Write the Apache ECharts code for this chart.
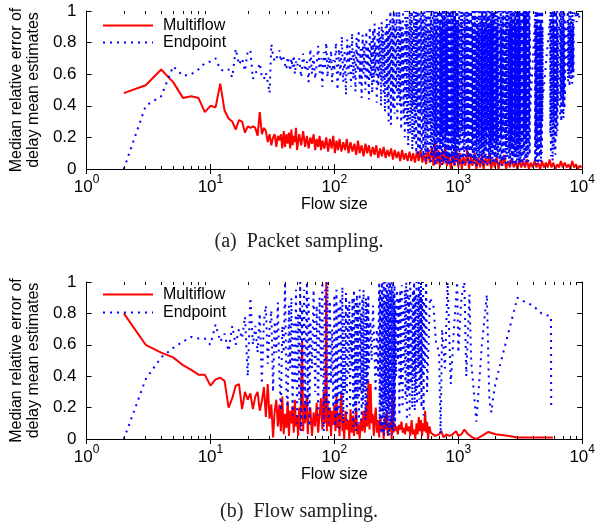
<!DOCTYPE html>
<html><head><meta charset="utf-8">
<script src="https://cdn.jsdelivr.net/npm/echarts@6/dist/echarts.min.js"></script>
<style>html,body{margin:0;padding:0;background:#fff}#c{width:598px;height:523px}</style>
</head><body><div id="c"></div>
<script>
// ---- Data (flow size, median relative error) ----
const seriesNames = ['Multiflow', 'Endpoint'];
const captions = ['(a)  Packet sampling.', '(b)  Flow sampling.'];
const yTicks = [0, 0.2, 0.4, 0.6, 0.8, 1];
const xDecades = [1, 10, 100, 1000, 10000];
const minorMultipliers = [2, 3, 4, 5, 6, 7, 8, 9];

const packetMultiflow = [[2,0.48],[3,0.53],[4,0.63],[5,0.55],[6,0.45],[7,0.46],[8,0.45],[9,0.36],[10,0.40],[11,0.39],[12,0.54],[13,0.37],[14,0.32],[15,0.30],[16,0.25],[17,0.31],[18,0.30],[19,0.23],[20,0.27],[21,0.26],[22,0.27],[23,0.26],[24,0.21],[25,0.36],[26,0.22],[27,0.26],[28,0.24],[29,0.17],[30,0.22],[31,0.15],[32,0.20],[33,0.22],[34,0.14],[35,0.21],[36,0.18],[37,0.22],[38,0.13],[39,0.24],[40,0.14],[41,0.22],[42,0.16],[43,0.23],[44,0.13],[45,0.25],[46,0.15],[47,0.21],[48,0.17],[49,0.26],[50,0.12],[52,0.22],[54,0.15],[56,0.24],[58,0.14],[60,0.21],[62,0.13],[64,0.20],[66,0.16],[68,0.22],[70,0.12],[72,0.19],[74,0.14],[76,0.21],[78,0.12],[80,0.18],[83,0.13],[86,0.20],[89,0.11],[92,0.19],[95,0.13],[98,0.21],[101,0.10],[104,0.18],[107,0.12],[110,0.19],[114,0.11],[118,0.17],[122,0.12],[126,0.19],[130,0.10],[135,0.17],[140,0.11],[145,0.16],[150,0.09],[155,0.18],[160,0.10],[166,0.15],[172,0.08],[178,0.16],[184,0.10],[190,0.15],[197,0.08],[204,0.14],[211,0.09],[218,0.15],[226,0.07],[234,0.13],[242,0.08],[250,0.14],[259,0.07],[268,0.12],[277,0.08],[287,0.13],[297,0.06],[307,0.12],[318,0.07],[329,0.11],[340,0.05],[352,0.12],[364,0.06],[377,0.10],[390,0.05],[404,0.11],[418,0.05],[432,0.10],[447,0.04],[463,0.11],[479,0.05],[496,0.12],[513,0.04],[531,0.10],[550,0.03],[569,0.13],[589,0.04],[610,0.14],[630,0.02],[650,0.17],[670,0.03],[690,0.12],[710,0.01],[735,0.11],[760,0.03],[785,0.15],[810,0.02],[840,0.10],[870,0.0],[900,0.09],[930,0.02],[960,0.13],[1000,0.01],[1030,0.10],[1070,0.0],[1100,0.08],[1140,0.02],[1180,0.12],[1220,0.0],[1260,0.08],[1300,0.02],[1350,0.10],[1400,0.0],[1450,0.07],[1500,0.01],[1550,0.09],[1600,0.0],[1660,0.07],[1720,0.02],[1780,0.10],[1840,0.0],[1900,0.06],[1970,0.01],[2040,0.08],[2110,0.0],[2190,0.06],[2270,0.02],[2350,0.09],[2430,0.0],[2520,0.05],[2610,0.01],[2700,0.07],[2800,0.01],[2900,0.05],[3000,0.0],[3110,0.06],[3220,0.01],[3340,0.05],[3460,0.01],[3580,0.06],[3710,0.0],[3840,0.04],[3980,0.01],[4120,0.05],[4270,0.01],[4420,0.04],[4580,0.0],[4740,0.05],[4910,0.01],[5090,0.04],[5270,0.01],[5460,0.06],[5650,0.01],[5850,0.04],[6060,0.0],[6280,0.03],[6500,0.01],[6730,0.05],[6970,0.01],[7220,0.04],[7480,0.01],[7750,0.03],[8020,0.0],[8310,0.05],[8600,0.01],[8910,0.03],[9230,0.0],[9560,0.02],[9900,0.01]];

const packetEndpoint = [[2,0],[3,0.40],[4,0.46],[5,0.65],[6,0.59],[7,0.60],[8,0.63],[9,0.67],[10,0.68],[11,0.70],[12,0.63],[13,0.62],[14,0.63],[15,0.58],[16,0.76],[17,0.66],[18,0.70],[19,0.62],[20,0.75],[21,0.75],[22,0.57],[23,0.61],[24,0.62],[25,0.67],[26,0.58],[27,0.57],[28,0.61],[29,0.55],[30,0.48],[31,0.79],[32,0.72],[33,0.68],[34,0.69],[35,0.72],[36,0.75],[37,0.68],[38,0.72],[39,0.70],[40,0.66],[41,0.63],[42,0.71],[43,0.67],[44,0.62],[45,0.70],[46,0.64],[47,0.72],[48,0.60],[49,0.68],[50,0.65],[52,0.70],[54,0.58],[56,0.73],[58,0.62],[60,0.68],[62,0.55],[64,0.76],[66,0.60],[68,0.72],[70,0.57],[72,0.66],[74,0.78],[76,0.61],[78,0.70],[80,0.52],[82,0.74],[84,0.63],[86,0.80],[88,0.58],[90,0.71],[92,0.64],[94,0.75],[96,0.55],[98,0.69],
[100,0.62],[103,0.80],[106,0.50],[109,0.76],[112,0.58],[115,0.84],[118,0.55],[121,0.74],[124,0.47],[127,0.82],[130,0.60],[133,0.78],[136,0.52],[139,0.86],[142,0.57],[145,0.75],[148,0.49],[151,0.83],[154,0.62],[157,0.88],[160,0.54],[163,0.76],[166,0.45],[169,0.85],[172,0.60],[175,0.80],[178,0.50],[181,0.87],[184,0.56],[187,0.78],[190,0.44],[193,0.90],[196,0.58],[199,0.81],[202,0.48],[205,0.88],[208,0.55],[211,0.92],[214,0.60],[217,0.79],[220,0.42],[223,0.86],[226,0.52],[229,0.90],[232,0.58],[235,0.84],[238,0.40],[241,0.93],[244,0.55],[247,0.88],[250,0.47],[253,0.82],[256,0.36],[259,0.90],[262,0.50],[265,0.95],[268,0.42],[271,0.87],[274,0.30],[277,0.92],[280,0.55],[283,1.0],[286,0.28],[289,0.88],[292,0.48],[295,0.96],[298,0.38],
[302,1.0],[306,0.35],[310,0.92],[314,0.50],[318,1.0],[322,0.30],[326,0.88],[330,0.45],[334,1.0],[338,0.40],[342,0.95],[346,0.25],[350,0.90],[354,0.52],[358,1.0],[362,0.32],[366,0.86],[370,0.20],[374,1.0],[378,0.42],[382,0.94],[386,0.28],[390,1.0],[394,0.15],[398,0.90],[402,0.45],[406,1.0],[410,0.22],[414,0.96],[418,0.35],[422,1.0],[426,0.12],[430,0.88],[434,0.40],[438,1.0],[442,0.18],[446,0.93],[450,0.30],[454,1.0],[458,0.10],[462,0.95],[466,0.38],[470,1.0],[474,0.08],[478,0.90],[482,0.25],[486,1.0],[490,0.12],[494,0.97],[498,0.35],[502,1.0],[506,0.06],
[510,0.95],[514,0.22],[518,1.0],[522,0.08],[526,0.90],[530,0.30],[534,1.0],[538,0.12],[542,0.86],[546,0.04],[550,0.97],[554,0.26],[558,1.0],[562,0.10],[566,0.92],[570,0.18],[574,1.0],[578,0.05],[582,0.88],[586,0.28],[590,1.0],[594,0.14],[598,0.95],[602,0.03],[606,1.0],[610,0.20],[614,0.91],[618,0.08],[622,1.0],[626,0.32],[630,0.85],[634,0.06],[638,1.0],[642,0.16],[646,0.94],[650,0.02],[654,1.0],[658,0.24],[662,0.89],[666,0.10],[670,1.0],[674,0.05],[678,0.96],[682,0.19],[686,1.0],[690,0.07],[694,0.87],[698,0.27],[702,1.0],[706,0.03],[710,0.93],[714,0.13],[718,1.0],[722,0.09],[726,0.90],[730,0.21],[734,1.0],[738,0.02],[742,0.97],[746,0.15],[750,1.0],[754,0.06],[758,0.88],[762,0.25],[766,1.0],[770,0.04],[774,0.94],[778,0.12],[782,1.0],[786,0.18],[790,0.86],[794,0.03],[798,1.0],[802,0.09],[806,0.92],[810,0.23],[814,1.0],[818,0.05],[822,0.95],[826,0.14],[830,1.0],[834,0.02],[838,0.89],[842,0.20],[846,1.0],[850,0.07],[854,0.97],[858,0.11],[862,1.0],[866,0.29],[870,0.91],[874,0.04],[878,1.0],[882,0.16],[886,0.87],[890,0.06],[894,1.0],[898,0.22],[902,0.94],[906,0.03],[910,1.0],[914,0.13],[918,0.90],[922,0.08],[926,1.0],[930,0.19],[934,0.96],[938,0.02],[942,1.0],[946,0.10],[950,0.88],[954,0.26],[958,1.0],[962,0.05],[966,0.93],[970,0.15],[974,1.0],[978,0.04],[982,0.91],[986,0.21],[990,1.0],[994,0.07],[998,0.95],
[1006,0.12],[1014,1.0],[1022,0.03],[1030,0.90],[1038,0.18],[1046,1.0],[1054,0.06],[1062,0.94],[1070,0.24],[1078,1.0],[1086,0.02],[1094,0.87],[1102,0.14],[1110,1.0],[1118,0.08],[1126,0.96],[1134,0.20],[1142,1.0],[1150,0.04],[1158,0.91],[1166,0.11],[1174,1.0],[1182,0.27],[1190,0.89],[1198,0.05],[1206,1.0],[1214,0.16],[1222,0.95],[1230,0.02],[1238,1.0],[1246,0.09],[1254,0.88],[1262,0.22],[1270,1.0],[1278,0.04],[1286,0.93],[1294,0.13],[1302,1.0],[1310,0.07],[1318,0.90],[1326,0.19],[1334,1.0],[1342,0.03],[1350,0.97],[1358,0.25],[1366,1.0],[1374,0.06],[1382,0.86],[1390,0.12],[1398,1.0],[1406,0.02],[1414,0.94],[1422,0.17],[1430,1.0],[1438,0.08],[1446,0.91],[1454,0.21],[1462,1.0],[1470,0.04],[1478,0.89],[1486,0.10],[1494,1.0],[1502,0.28],[1510,0.95],[1518,0.03],[1526,1.0],[1534,0.15],[1542,0.92],[1550,0.06],[1558,1.0],[1566,0.20],[1574,0.87],[1582,0.02],[1590,1.0],[1598,0.11],[1606,0.96],[1614,0.07],[1622,1.0],[1630,0.23],[1638,0.90],[1646,0.04],[1654,1.0],[1662,0.14],[1670,0.93],[1678,0.09],[1686,1.0],[1694,0.18],[1702,0.88],[1710,0.03],[1718,1.0],[1726,0.26],[1734,0.95],[1742,0.05],[1750,1.0],[1758,0.12],[1766,0.91],[1774,0.08],[1782,1.0],[1790,0.21],[1798,0.86],[1806,0.02],[1814,1.0],[1822,0.16],[1830,0.94],[1838,0.06],[1846,1.0],[1854,0.13],[1862,0.89],[1870,0.24],[1878,1.0],[1886,0.04],[1894,0.92],[1902,0.10],[1910,1.0],[1918,0.19],[1926,0.97],[1934,0.03],[1942,1.0],[1950,0.15],[1958,0.88],[1966,0.07],[1974,1.0],[1982,0.22],[1990,0.93],[1998,0.05],
[2010,1.0],[2022,0.12],[2034,0.90],[2046,0.04],[2058,1.0],[2070,0.18],[2082,0.95],[2094,0.08],[2106,1.0],[2118,0.27],[2130,0.87],[2142,0.03],[2154,1.0],[2166,0.14],[2178,0.92],[2190,0.06],[2202,1.0],[2214,0.20],[2226,0.89],[2238,0.02],[2250,1.0],[2262,0.11],[2274,0.96],[2286,0.25],[2298,1.0],[2310,0.05],[2322,0.91],[2334,0.16],[2346,1.0],[2358,0.09],[2370,0.86],[2382,0.22],[2394,1.0],[2406,0.03],[2418,0.94],[2430,0.13],[2442,1.0],[2454,0.07],[2466,0.90],[2478,0.19],[2490,1.0],[2502,0.04],[2514,0.97],[2526,0.28],[2538,1.0],[2550,0.10],[2562,0.88],[2574,0.05],[2586,1.0],[2598,0.17],[2610,0.93],[2622,0.02],[2634,1.0],[2646,0.12],[2658,0.89],[2670,0.21],[2682,1.0],[2694,0.06],[2706,0.95],[2718,0.15],[2730,1.0],[2742,0.03],[2754,0.87],[2766,0.24],[2778,1.0],[2790,0.08],[2802,0.92],[2814,0.14],[2826,1.0],[2838,0.04],[2850,0.96],[2862,0.18],[2874,1.0],[2886,0.09],[2898,0.90],[2910,0.02],[2922,1.0],[2934,0.20],[2946,0.94],[2958,0.11],[2970,1.0],[2982,0.05],[2994,0.88],[3006,0.26],[3018,1.0],[3030,0.07],[3042,0.91],[3054,0.13],[3066,1.0],[3078,0.03],[3090,0.95],[3102,0.16],[3114,1.0],[3126,0.06],[3138,0.89],[3150,0.22],[3162,1.0],[3174,0.04],[3186,0.93],[3198,0.12],
[3213,1.0],[3228,0.05],[3243,0.92],[3258,0.14],[3273,1.0],[3288,0.03],[3303,0.96],[3318,0.20],[3333,1.0],[3348,0.08],[3363,0.89],[3378,0.12],[3393,1.0],[3408,0.02],[3423,0.94],[3438,0.25],[3453,1.0],[3468,0.06],[3483,0.90],[3498,0.16],[3513,1.0],[3528,0.04],[3543,0.95],[3558,0.11],[3573,1.0],[3588,0.22],[3603,0.87],[3618,0.07],[3633,1.0],[3648,0.18],[3663,0.93],[3678,0.03],[3693,1.0],[3708,0.13],[3723,0.91],[3738,0.28],[3753,1.0],[3768,0.09],[3783,0.86],[3800,0.35],
[4150,0.95],[4170,0.04],[4190,1.0],[4210,0.15],[4230,0.90],[4250,0.02],[4270,1.0],[4290,0.21],[4310,0.94],[4330,0.07],[4350,1.0],[4370,0.12],[4390,0.88],[4410,0.03],[4430,1.0],[4450,0.18],[4470,0.96],[4490,0.05],[4510,1.0],[4530,0.26],[4550,0.91],[4570,0.08],[4590,1.0],[4610,0.14],[4630,0.93],[4650,0.04],[4670,1.0],[4690,0.22],[4710,0.87],[4730,0.10],[4750,1.0],[4770,0.30],[4790,0.90],[4810,0.45],
[5500,0.95],[5530,0.22],[5560,1.0],[5590,0.08],[5620,0.91],[5650,0.30],[5680,1.0],[5710,0.15],[5740,0.88],[5770,0.05],[5800,1.0],[5830,0.26],[5860,0.94],[5890,0.12],[5920,1.0],[5950,0.33],[5980,0.90],[6010,0.18],[6040,1.0],[6070,0.09],[6100,0.86],[6130,0.28],[6160,1.0],[6190,0.20],[6220,0.93],[6250,0.35],[6280,1.0],[6310,0.24],[6340,0.89],[6370,0.40],[6400,0.82],
[6600,1.0],[6635,0.33],[6670,0.92],[6705,0.45],[6740,1.0],[6775,0.30],[6810,0.88],[6845,0.48],[6880,1.0],[6915,0.36],[6950,0.94],[6985,0.42],[7020,1.0],[7055,0.32],[7090,0.90],[7125,0.50],[7160,1.0],[7195,0.38],[7230,0.86],[7265,0.46],[7300,0.95],
[7600,0.62],[7650,1.0],[7700,0.55],[7750,0.93],[7800,0.60],[7850,1.0],[7900,0.52],[7950,0.90],[8000,0.64],[8050,1.0],[8100,0.57],[8150,0.95],[8200,0.61],[8250,0.88],[8300,0.54],[8350,1.0],[8400,0.63],[8450,0.92],[8500,0.58],[8550,0.96],
[8800,1.0],[9000,0.93],[9200,1.0],[9400,0.95],[9600,1.0]];

const flowMultiflow = [[2,0.80],[3,0.60],[4,0.55],[5,0.52],[6,0.47],[7,0.44],[8,0.41],[9,0.41],[10,0.34],[11,0.38],[12,0.39],[13,0.37],[14,0.20],[15,0.26],[16,0.34],[17,0.35],[18,0.19],[19,0.30],[20,0.25],[21,0.29],[22,0.19],[23,0.27],[24,0.30],[25,0.18],[26,0.24],[27,0.33],[28,0.14],[29,0.35],[30,0.13],[31,0.22],[32,0.01],[33,0.18],[34,0.25],[35,0.08],[36,0.22],[37,0.05],[38,0.27],[39,0.03],[40,0.16],[41,0.07],[42,0.24],[43,0.02],[44,0.18],[45,0.10],[46,0.21],[47,0.04],[48,0.25],[49,0.08],[50,0.15],[51,0.02],[52,0.20],[53,0.06],[54,0.30],[55,0.62],[56,0.05],[57,0.22],[58,0.10],[59,0.18],[60,0.28],[61,0.03],[62,0.14],[64,0.20],[66,0.02],[68,0.17],[70,0.08],[72,0.23],[74,0.04],[76,0.15],[78,0.26],[80,0.06],[82,0.30],[84,0.10],[86,1.0],[87,0.05],[88,0.25],[90,0.08],[92,0.20],[94,0.02],[96,0.18],[98,0.09],[100,0.22],[102,0.05],[104,0.28],[106,0.07],[108,0.16],[110,0.02],[112,0.20],[114,0.30],[116,0.05],[118,0.14],[120,0.0],[123,0.18],[126,0.06],[129,0.12],[132,0.0],[135,0.19],[138,0.04],[141,0.15],[144,0.02],[147,0.12],[150,0.20],[153,0.03],[156,0.10],[160,0.0],[164,0.13],[168,0.05],[172,0.18],[176,0.04],[180,0.22],[184,0.08],[188,0.37],[192,0.06],[196,0.35],[200,0.10],[204,0.16],[208,0.02],[212,0.13],[216,0.20],[220,0.04],[225,0.12],[230,0.01],[235,0.15],[240,0.05],[245,0.10],[250,0.0],[255,0.14],[260,0.06],[265,0.18],[270,0.02],[275,0.10],[280,0.05],[285,0.12],[290,0.0],[295,0.30],[300,0.04],[306,0.10],[312,0.05],[318,0.08],[325,0.03],[332,0.09],[340,0.06],[348,0.11],[356,0.04],[364,0.07],[372,0.03],[380,0.10],[390,0.05],[400,0.08],[410,0.02],[420,0.12],[430,0.03],[440,0.06],[450,0.0],[460,0.10],[470,0.03],[480,0.14],[490,0.05],[500,0.12],[510,0.02],[520,0.10],[530,0.05],[540,0.18],[550,0.04],[560,0.11],[570,0.0],[585,0.08],[600,0.04],[620,0.03],[650,0.02],[700,0.03],[730,0.05],[760,0.01],[800,0.03],[850,0.02],[900,0.03],[960,0.05],[1000,0.02],[1060,0.03],[1120,0.06],[1200,0.03],[1300,0.01],[1400,0.0],[1550,0.02],[1750,0.045],[2000,0.03],[2500,0.02],[3000,0.01],[4000,0.01],[5800,0.01]];

const flowEndpoint = [[2,0],[3,0.38],[4,0.52],[5,0.58],[6,0.62],[7,0.65],[8,0.64],[9,0.64],[10,0.60],[11,0.73],[12,0.62],[13,0.67],[14,0.56],[15,0.72],[16,0.60],[17,0.70],[18,0.64],[19,0.78],[20,0.40],[21,0.90],[22,0.60],[23,0.72],[24,0.55],[25,0.80],[26,0.35],[27,0.75],[28,0.85],[29,0.48],[30,0.70],[31,0.82],[32,0.30],[33,0.75],[34,0.55],[35,0.87],[36,0.40],[37,0.18],[38,0.72],[39,0.55],[40,1.0],[41,0.30],[42,0.20],[43,0.85],[44,0.45],[45,0.90],[46,0.15],[47,0.75],[48,0.35],[49,0.95],[50,0.10],[51,0.80],[52,0.25],[53,1.0],[54,0.05],[55,0.85],[56,0.30],[57,0.95],[58,0.12],[59,0.70],[60,1.0],[61,0.20],[62,0.90],[63,0.08],[64,0.75],[66,0.45],[68,0.95],[70,0.30],[72,0.85],[74,0.15],[76,0.90],[78,0.40],[80,1.0],[82,0.05],[84,0.95],[86,0.20],[88,1.0],[90,0.10],[92,0.88],[94,0.35],[96,0.70],[98,0.20],
[100,0.92],[102,0.08],[104,0.95],[106,0.15],[108,0.85],[110,0.05],[112,0.90],[114,0.25],[116,0.97],[118,0.10],[120,0.80],[122,0.30],[124,0.93],[126,0.12],[128,0.85],[130,0.40],[132,0.88],[134,0.20],[136,0.75],[138,0.45],[140,0.90],[142,0.08],[144,0.95],[146,0.18],[148,0.88],[150,0.05],[152,0.92],[154,0.25],[156,0.85],[158,0.10],[160,0.95],[162,0.30],[164,0.80],[166,0.12],[168,0.90],[170,0.22],[172,0.95],[174,0.30],[176,0.80],[178,0.12],[180,0.90],[182,0.18],[184,0.86],[186,0.35],[188,0.92],[190,0.45],[195,0.75],[200,0.50],[205,0.85],[210,0.60],[215,0.30],[220,0.70],[225,0.40],
[230,1.0],[232,0.10],[234,0.95],[236,0.05],[238,0.92],[240,0.20],[242,1.0],[244,0.03],[246,0.90],[248,0.15],[250,1.0],[252,0.02],[254,0.88],[256,0.25],[258,1.0],[260,0.08],[262,0.95],[264,0.12],[266,1.0],[268,0.04],[270,0.92],[272,0.18],[274,1.0],[276,0.02],[278,0.88],[280,0.22],[282,1.0],[284,0.06],[286,0.94],[288,0.10],[290,1.0],[292,0.03],[294,0.90],[296,0.28],[298,1.0],[300,0.05],[302,0.93],[304,0.15],[306,0.98],[308,0.08],[310,0.85],
[315,0.40],[320,0.95],[325,0.50],[330,0.90],[335,0.15],[340,0.95],[345,0.35],[350,0.98],[355,0.20],[360,0.85],[365,0.45],[370,0.95],[375,0.25],[380,1.0],[385,0.12],[390,0.95],[395,0.30],[400,0.90],[405,0.15],[410,1.0],[415,0.35],[420,0.88],[425,0.20],[430,0.95],[435,0.40],[440,1.0],[445,0.18],[450,0.92],[455,0.30],[460,1.0],[465,0.22],[470,0.90],[475,0.45],[480,1.0],[485,0.25],[490,0.95],[495,0.35],[500,1.0],[505,0.20],[510,0.90],[515,0.40],[520,1.0],[525,0.15],[530,0.88],[540,0.45],[550,1.0],[560,0.30],
[590,0.90],[630,0.85],[660,0.62],[700,0.55],[720,0.03],[740,0.70],[780,0.45],[820,1.0],[870,0.35],[930,0.75],[980,1.0],[1000,0.55],[1060,0.90],[1120,1.0],[1160,0.40],[1230,0.92],[1270,0.50],[1400,0.11],[1550,0.60],[1700,0.92],[1780,0.25],[1850,0.17],[1900,0.25],[2000,0.36],[3000,0.90],[3500,0.87],[4000,0.85],[4700,0.80],[5600,0.78],[5620,0.20]];

const panels = [
  { multi: packetMultiflow, end: packetEndpoint, top: 11, height: 158, legendTop: 17, legendGap: 0, captionTop: 227 },
  { multi: flowMultiflow, end: flowEndpoint, top: 282, height: 157, legendTop: 286, legendGap: 1, captionTop: 497 }
];

// ---- Styling ----
const SANS = '"Liberation Sans", Arial, Helvetica, sans-serif';
const SERIF = '"Liberation Serif", "Times New Roman", serif';
const RED = '#ff0000', BLUE = '#0000ff';
const blueDash = [2, 5];
const MINOR_LEN_PX = 3;

const minorValues = [];
for (let d = 0; d < xDecades.length - 1; d++) {
  for (const m of minorMultipliers) minorValues.push(xDecades[d] * m);
}

const grid = [], xAxis = [], yAxis = [], series = [], legend = [], title = [];

panels.forEach((p, i) => {
  grid.push({ left: 81, top: p.top, width: 504, height: p.height, containLabel: false });
  const xb = xAxis.length;
  xAxis.push({
    type: 'log', logBase: 10, gridIndex: i, min: 1, max: 10000, position: 'bottom',
    axisLine: { show: true, lineStyle: { color: '#000', width: 1 } },
    axisTick: { show: true, inside: true, length: 5, lineStyle: { color: '#000' } },
    splitLine: { show: false },
    axisLabel: {
      margin: 5, color: '#000',
      formatter: v => '{b|10}{s|' + Math.round(Math.log10(v)) + '}',
      rich: {
        b: { fontFamily: SANS, fontSize: 17, color: '#000', verticalAlign: 'bottom', lineHeight: 22 },
        s: { fontFamily: SANS, fontSize: 12, color: '#000', verticalAlign: 'top', lineHeight: 14 }
      }
    },
    name: 'Flow size', nameLocation: 'middle', nameGap: 25,
    nameTextStyle: { fontFamily: SANS, fontSize: 16, color: '#000', lineHeight: 16 }
  });
  xAxis.push({
    type: 'log', logBase: 10, gridIndex: i, min: 1, max: 10000, position: 'top',
    axisLine: { show: true, lineStyle: { color: '#000', width: 1 } },
    axisTick: { show: true, inside: true, length: 5, lineStyle: { color: '#000' } },
    axisLabel: { show: false }, splitLine: { show: false }
  });
  const yl = yAxis.length;
  yAxis.push({
    type: 'value', gridIndex: i, min: 0, max: 1, interval: 0.2, position: 'left',
    axisLine: { show: true, lineStyle: { color: '#000', width: 1 } },
    axisTick: { show: true, inside: true, length: 5, lineStyle: { color: '#000' } },
    splitLine: { show: false },
    axisLabel: { margin: 10, color: '#000', fontFamily: SANS, fontSize: 17,
      formatter: v => (v === 0 ? '0' : v === 1 ? '1' : v.toFixed(1)) },
    name: 'Median relative error of\ndelay mean estimates',
    nameLocation: 'middle', nameRotate: 90, nameGap: 40,
    nameTextStyle: { fontFamily: SANS, fontSize: 16, color: '#000', lineHeight: 17 }
  });
  yAxis.push({
    type: 'value', gridIndex: i, min: 0, max: 1, interval: 0.2, position: 'right',
    axisLine: { show: true, lineStyle: { color: '#000', width: 1 } },
    axisTick: { show: true, inside: true, length: 5, lineStyle: { color: '#000' } },
    axisLabel: { show: false }, splitLine: { show: false }
  });

  // minor ticks of the log x axis (2..9 in every decade) on the bottom and top edges, pointing inward
  const len = MINOR_LEN_PX / p.height;
  const minorTickLines = [];
  minorValues.forEach(v => {
    minorTickLines.push([{ coord: [v, 0] }, { coord: [v, len] }]);
    minorTickLines.push([{ coord: [v, 1] }, { coord: [v, 1 - len] }]);
  });

  series.push({
    name: seriesNames[0], type: 'line', xAxisIndex: xb, yAxisIndex: yl,
    data: p.multi, symbol: 'none', showSymbol: false,
    lineStyle: { color: RED, width: 2 }, itemStyle: { color: RED }, z: 2,
    markLine: {
      silent: true, symbol: ['none', 'none'], animation: false,
      label: { show: false }, emphasis: { disabled: true },
      lineStyle: { color: '#000', width: 1, type: 'solid' },
      data: minorTickLines
    }
  });
  series.push({
    name: seriesNames[1], type: 'line', xAxisIndex: xb, yAxisIndex: yl,
    data: p.end, symbol: 'none', showSymbol: false,
    lineStyle: { color: BLUE, width: 2, type: blueDash }, itemStyle: { color: BLUE }, z: 3
  });

  legend.push({
    orient: 'vertical', left: 102, top: p.legendTop, padding: 0,
    itemWidth: 50, itemHeight: 4, itemGap: p.legendGap,
    data: seriesNames, selectedMode: false,
    itemStyle: { opacity: 0 },
    textStyle: { fontFamily: SANS, fontSize: 16, color: '#000', lineHeight: 17, padding: [0, 0, 0, 5] }
  });
  title.push({
    text: captions[i], left: 'center', top: p.captionTop,
    textStyle: { fontFamily: SERIF, fontSize: 20, fontWeight: 'normal', color: '#222' }
  });
});

const chart = echarts.init(document.getElementById('c'), null, { renderer: 'canvas' });
chart.setOption({ animation: false, backgroundColor: '#fff', grid, xAxis, yAxis, series, legend, title });
</script></body></html>
